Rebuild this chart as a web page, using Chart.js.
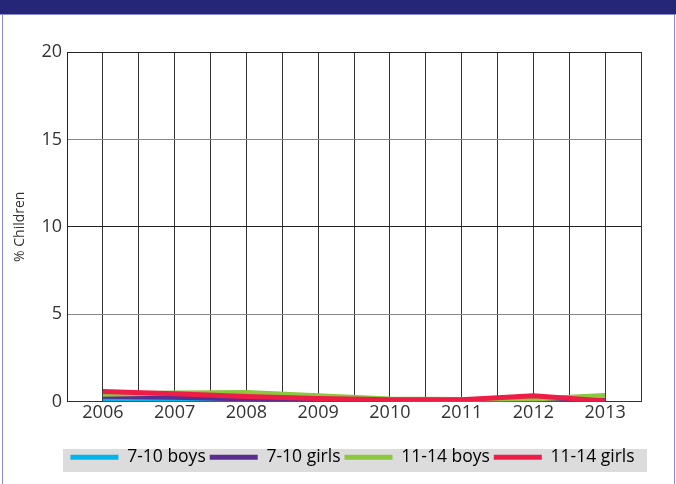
<!DOCTYPE html>
<html><head><meta charset="utf-8">
<script src="https://cdn.jsdelivr.net/npm/chart.js@4"></script>
<style>
html,body{margin:0;padding:0;background:#fff;width:676px;height:484px;overflow:hidden;}
#bar{position:absolute;left:0;top:0;width:676px;height:14px;background:#262679;border-bottom:1px solid #8a8ad0;}
#lb{position:absolute;left:2px;top:14px;width:1px;height:470px;background:#8a8ad0;}
#rb{position:absolute;left:674px;top:14px;width:1px;height:470px;background:#8a8ad0;}
#wrap{position:absolute;left:0;top:0;width:676px;height:484px;}
</style></head>
<body>
<div id="bar"></div><div id="lb"></div><div id="rb"></div>
<div id="wrap"><canvas id="c" width="676" height="484"></canvas></div>
<script>
const years = [2006, 2007, 2008, 2009, 2010, 2011, 2012, 2013];
const seriesNames = ["7-10 boys", "7-10 girls", "11-14 boys", "11-14 girls"];
const boys7to10 = [0.15, 0.10, 0.05, 0.00, 0.00, 0.00, 0.05, 0.05];
const girls7to10 = [0.30, 0.25, 0.15, 0.05, 0.05, 0.05, 0.05, 0.10];
const boys11to14 = [0.42, 0.48, 0.52, 0.33, 0.15, 0.12, 0.15, 0.35];
const girls11to14 = [0.57, 0.45, 0.28, 0.17, 0.10, 0.10, 0.33, 0.03];
const yTicks = [0, 5, 10, 15, 20];
const colors = ["#00b4ec", "#5b2d90", "#8dc63f", "#ee1d48"];

const allSeries = [boys7to10, girls7to10, boys11to14, girls11to14];
const datasets = allSeries.map((vals, i) => ({
  label: seriesNames[i],
  data: years.map((y, j) => ({x: y, y: vals[j]})),
  borderColor: colors[i],
  backgroundColor: colors[i],
  borderWidth: 5,
  pointRadius: 0,
  tension: 0,
  order: allSeries.length - i
}));

const legendBg = {
  id: 'legendBg',
  afterUpdate(chart) {
    const lg = chart.legend;
    if (!lg) return;
    lg.left += 26; lg.right += 26;
  },
  beforeDraw(chart) {
    const lg = chart.legend;
    if (!lg) return;
    const cy = lg.top + lg.height / 2;
    const ctx = chart.ctx;
    ctx.save();
    ctx.fillStyle = '#dcdcdd';
    ctx.fillRect(63, Math.round(cy - 11.5), 584, 23);
    ctx.restore();
  }
};

Chart.defaults.font.family = "'Open Sans', sans-serif";
Chart.defaults.color = '#333';

new Chart(document.getElementById('c'), {
  type: 'line',
  data: {datasets},
  plugins: [legendBg],
  options: {
    responsive: false,
    animation: false,
    layout: {padding: {left: 12, right: 35, top: 52, bottom: 8}},
    plugins: {
      tooltip: {enabled: false},
      legend: {
        position: 'bottom',
        labels: {
          boxWidth: 48, boxHeight: 5, padding: 4,
          font: {size: 17.5}, color: '#333',
          generateLabels(chart) {
            return chart.data.datasets.map((d, i) => ({
              text: d.label, fillStyle: d.borderColor, strokeStyle: d.borderColor,
              lineWidth: 0, datasetIndex: i, hidden: false
            }));
          }
        }
      }
    },
    scales: {
      x: {
        type: 'linear', min: 2005.5, max: 2013.5,
        afterBuildTicks(axis) {
          const t = [];
          for (let v = 2005.5; v <= 2013.5 + 1e-9; v += 0.5) t.push({value: v});
          axis.ticks = t;
        },
        afterFit(axis) { axis.height = 43; },
        ticks: {
          autoSkip: false, maxRotation: 0, padding: 1,
          font: {size: 18}, color: '#333',
          callback: v => Number.isInteger(v) ? String(v) : ''
        },
        grid: {color: '#333', lineWidth: 1, drawTicks: false},
        border: {color: '#333', width: 1}
      },
      y: {
        min: 0, max: 20,
        afterBuildTicks(axis) { axis.ticks = yTicks.map(v => ({value: v})); },
        afterFit(axis) { axis.width = 55; },
        ticks: {font: {size: 18}, color: '#333', padding: 5},
        grid: {
          color: ctx => (ctx.tick && (ctx.tick.value === 5 || ctx.tick.value === 15)) ? '#888' : '#222',
          drawTicks: false
        },
        border: {color: '#222', width: 1},
        title: {display: true, text: '% Children', font: {size: 14}, color: '#333', padding: {top: 0, bottom: 0}}
      }
    }
  }
});
</script>
</body></html>
